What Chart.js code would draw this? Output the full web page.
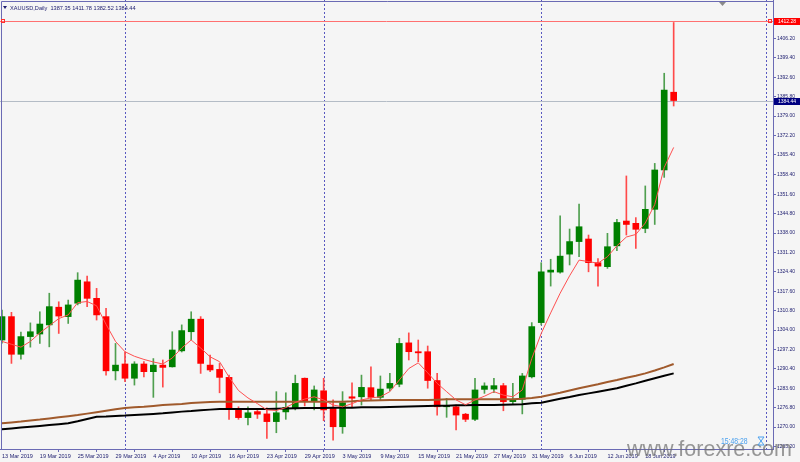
<!DOCTYPE html>
<html>
<head>
<meta charset="utf-8">
<title>XAUUSD,Daily</title>
<script src="https://cdn.jsdelivr.net/npm/chart.js@4.4.1/dist/chart.umd.min.js"></script>
<style>
  html, body { margin: 0; padding: 0; background: #f5f5f5; }
  #contenedor { width: 800px; height: 462px; position: relative; }
</style>
</head>
<body>
<div id="contenedor"><canvas id="grafica"></canvas></div>
<script>
// Velas diarias XAUUSD (13 Mar 2019 - 21 Jun 2019), una por sesión
const aperturas = [1300.5, 1308.7, 1295.5, 1301.7, 1302.6, 1305.8, 1312.0, 1308.7, 1313.4, 1320.9,
    1315.1, 1308.7, 1289.7, 1292.1, 1287.1, 1292.1, 1289.4, 1291.7, 1291.1, 1296.7,
    1303.4, 1307.8, 1291.7, 1290.2, 1287.4, 1276.3, 1273.3, 1275.4, 1274.6, 1271.9,
    1275.3, 1276.6, 1287.1, 1279.2, 1282.7, 1276.6, 1270.1, 1280.6, 1280.6, 1283.8,
    1280.4, 1283.6, 1285.0, 1299.5, 1296.4, 1296.4, 1286.3, 1277.1, 1277.1, 1274.5,
    1272.7, 1283.2, 1283.3, 1284.5, 1278.9, 1279.7, 1287.6, 1306.6, 1324.3, 1324.3,
    1330.6, 1335.0, 1335.9, 1327.6, 1326.2, 1333.5, 1342.2, 1341.4, 1339.6, 1346.3,
    1360.1, 1387.35];
const maximos = [1311.0, 1310.2, 1303.3, 1306.5, 1310.4, 1316.9, 1313.9, 1314.5, 1324.1, 1322.9,
    1318.6, 1311.6, 1299.3, 1296.4, 1292.9, 1292.9, 1294.0, 1293.5, 1303.4, 1305.8,
    1310.4, 1308.7, 1295.2, 1292.3, 1288.2, 1277.1, 1277.1, 1276.5, 1276.7, 1282.4,
    1282.0, 1288.2, 1287.2, 1284.4, 1287.1, 1279.5, 1282.4, 1285.5, 1288.2, 1291.1,
    1287.9, 1288.8, 1301.1, 1303.0, 1300.5, 1298.4, 1288.8, 1280.0, 1277.7, 1274.8,
    1287.1, 1285.5, 1287.1, 1285.3, 1285.3, 1288.8, 1306.6, 1327.6, 1328.8, 1344.0,
    1339.4, 1348.1, 1337.3, 1329.0, 1337.9, 1342.8, 1358.0, 1343.4, 1354.5, 1362.4,
    1394.0, 1411.78];
const minimos = [1299.4, 1292.3, 1293.8, 1298.0, 1299.3, 1298.1, 1302.8, 1306.3, 1312.8, 1312.2,
    1307.5, 1288.2, 1286.5, 1285.9, 1284.7, 1287.6, 1280.4, 1284.0, 1291.0, 1296.3,
    1300.5, 1288.8, 1289.4, 1282.0, 1272.7, 1272.7, 1270.7, 1273.0, 1266.0, 1268.0,
    1272.7, 1276.0, 1277.4, 1276.0, 1272.2, 1265.4, 1267.8, 1277.1, 1277.7, 1279.5,
    1279.5, 1282.7, 1284.1, 1293.5, 1292.9, 1283.6, 1274.2, 1273.4, 1269.0, 1271.9,
    1272.2, 1281.8, 1282.0, 1275.7, 1278.0, 1274.6, 1287.2, 1305.8, 1319.4, 1323.9,
    1326.8, 1329.7, 1324.4, 1319.4, 1325.6, 1331.8, 1337.3, 1332.6, 1338.1, 1341.0,
    1357.5, 1382.52];
const cierres = [1308.7, 1295.5, 1301.7, 1303.4, 1306.1, 1312.2, 1308.9, 1312.8, 1321.5, 1315.1,
    1309.3, 1289.7, 1291.7, 1287.1, 1292.1, 1289.4, 1291.7, 1290.9, 1297.0, 1303.8,
    1307.8, 1292.3, 1290.0, 1287.4, 1276.6, 1273.3, 1275.0, 1274.5, 1271.9, 1275.0,
    1276.9, 1285.3, 1279.2, 1283.0, 1276.0, 1270.1, 1278.5, 1280.1, 1283.9, 1280.4,
    1283.3, 1285.3, 1299.3, 1296.4, 1296.0, 1286.3, 1277.1, 1277.5, 1274.2, 1272.7,
    1283.0, 1284.4, 1284.5, 1278.9, 1279.7, 1287.9, 1305.2, 1324.4, 1325.0, 1329.9,
    1335.0, 1340.2, 1327.6, 1326.4, 1333.2, 1341.7, 1341.0, 1339.3, 1346.3, 1360.1,
    1388.1, 1384.44];

// Medias móviles
const mediaRoja = [1300.0, 1299.0, 1298.0, 1300.0, 1303.0, 1305.5, 1308.0, 1309.3, 1313.6, 1314.0,
    1312.5, 1306.0, 1300.0, 1296.4, 1294.8, 1293.7, 1292.8, 1292.1, 1294.2, 1297.7,
    1300.5, 1297.7, 1294.6, 1292.9, 1287.5, 1282.8, 1280.2, 1278.2, 1276.0, 1275.8,
    1276.8, 1278.6, 1279.8, 1280.6, 1279.5, 1277.7, 1277.1, 1278.2, 1279.5, 1280.2,
    1280.6, 1282.4, 1286.5, 1290.5, 1292.5, 1289.0, 1285.3, 1282.4, 1279.5, 1277.8,
    1279.5, 1280.8, 1282.4, 1281.2, 1280.6, 1283.0, 1294.0, 1302.8, 1310.0, 1316.9,
    1323.0, 1328.5, 1328.0, 1327.4, 1329.7, 1333.5, 1336.6, 1337.5, 1341.5, 1348.0,
    1361.0, 1368.0];
const mediaMarron = [1271.3, 1271.6, 1271.9, 1272.3, 1272.6, 1273.0, 1273.4, 1273.8, 1274.2, 1274.7,
    1275.2, 1275.7, 1276.2, 1276.7, 1276.9, 1277.1, 1277.4, 1277.7, 1277.9, 1278.1,
    1278.4, 1278.6, 1278.8, 1278.9, 1278.9, 1278.9, 1278.9, 1278.9, 1278.9, 1278.9,
    1278.9, 1278.9, 1278.9, 1278.9, 1278.9, 1278.9, 1278.9, 1279.0, 1279.2, 1279.3,
    1279.4, 1279.5, 1279.5, 1279.5, 1279.5, 1279.5, 1279.6, 1279.7, 1279.7, 1279.7,
    1279.7, 1279.7, 1279.7, 1279.7, 1279.7, 1279.9, 1280.2, 1280.6, 1281.3, 1282.0,
    1282.8, 1283.6, 1284.3, 1285.0, 1285.8, 1286.5, 1287.3, 1288.0, 1288.8, 1289.8,
    1290.9, 1292.1];
const mediaNegra = [1269.2, 1269.5, 1269.8, 1270.1, 1270.4, 1270.7, 1271.0, 1271.3, 1272.0, 1272.8,
    1273.6, 1273.7, 1273.9, 1274.0, 1274.2, 1274.4, 1274.6, 1274.8, 1275.1, 1275.4,
    1275.6, 1275.9, 1276.1, 1276.3, 1276.3, 1276.3, 1276.3, 1276.3, 1276.3, 1276.4,
    1276.5, 1276.6, 1276.7, 1276.7, 1276.7, 1276.8, 1276.8, 1276.8, 1276.9, 1276.9,
    1276.9, 1277.0, 1277.1, 1277.2, 1277.3, 1277.4, 1277.5, 1277.5, 1277.6, 1277.6,
    1277.7, 1277.7, 1277.7, 1277.8, 1277.9, 1278.0, 1278.3, 1278.5, 1279.2, 1279.9,
    1280.5, 1281.2, 1281.8, 1282.4, 1283.0, 1283.6, 1284.5, 1285.3, 1286.2, 1287.1,
    1288.0, 1288.8];

// Etiquetas del eje de tiempo (índice de vela donde va cada fecha)
const etiquetasFechas = ['13 Mar 2019', '19 Mar 2019', '25 Mar 2019', '29 Mar 2019', '4 Apr 2019',
    '10 Apr 2019', '16 Apr 2019', '23 Apr 2019', '29 Apr 2019', '3 May 2019', '9 May 2019',
    '15 May 2019', '21 May 2019', '27 May 2019', '31 May 2019', '6 Jun 2019', '12 Jun 2019', '18 Jun 2019'];
const posicionesFechas = [0, 4, 8, 12, 16, 20, 24, 28, 32, 36, 40, 44, 48, 52, 56, 60, 64, 68];

// Etiquetas del eje de precios
const valoresPrecio = [1406.20, 1399.40, 1392.60, 1385.80, 1379.00, 1372.20, 1365.40, 1358.40,
    1351.60, 1344.80, 1338.00, 1331.20, 1324.40, 1317.60, 1310.80, 1304.00, 1297.20, 1290.40,
    1283.60, 1276.80, 1270.00, 1263.20];

// Separadores de periodo (inicio de mes) y líneas horizontales
const separadores = [13, 34, 57, 80.8];
const lineaMaximo = 1412.28;
const lineaBid = 1384.44;
const titulo = 'XAUUSD,Daily  1387.35 1411.78 1382.52 1384.44';
const hora = '15:48:28';

const colorEje = '#6a6ab4';
const colorTexto = '#1c1c6e';

const verde = '#008000';
const rojo = '#ff0000';
const esAlcista = i => cierres[i] >= aperturas[i];

const cuerpos = cierres.map((c, i) => ({ x: i, y: [aperturas[i], c] }));
const mechas = minimos.map((l, i) => ({ x: i, y: [l, maximos[i]] }));
const puntos = serie => serie.map((v, i) => ({ x: i, y: v }));

// Dibujo de fondo, separadores y líneas de precio
const pluginFondo = {
    id: 'fondo',
    beforeDraw(chart) {
        const ctx = chart.ctx;
        ctx.save();
        ctx.fillStyle = '#f5f5f5';
        ctx.fillRect(0, 0, chart.width, chart.height);
        ctx.restore();
    },
    beforeDatasetsDraw(chart) {
        const ctx = chart.ctx;
        const area = chart.chartArea;
        const x = chart.scales.x;
        const y = chart.scales.y;
        ctx.save();
        // separadores de mes
        ctx.strokeStyle = '#5858c0';
        ctx.lineWidth = 1;
        ctx.setLineDash([2, 2]);
        separadores.forEach(s => {
            const px = Math.round(x.getPixelForValue(s)) + 0.5;
            ctx.beginPath();
            ctx.moveTo(px, area.top);
            ctx.lineTo(px, area.bottom);
            ctx.stroke();
        });
        ctx.setLineDash([]);
        // línea del máximo
        const yMax = Math.round(y.getPixelForValue(lineaMaximo)) + 0.5;
        ctx.strokeStyle = '#ff7070';
        ctx.beginPath();
        ctx.moveTo(area.left, yMax);
        ctx.lineTo(area.right, yMax);
        ctx.stroke();
        // línea bid
        const yBid = Math.round(y.getPixelForValue(lineaBid)) + 0.5;
        ctx.strokeStyle = '#b4bcc6';
        ctx.beginPath();
        ctx.moveTo(area.left, yBid);
        ctx.lineTo(area.right, yBid);
        ctx.stroke();
        ctx.restore();
    },
    afterDraw(chart) {
        const ctx = chart.ctx;
        const area = chart.chartArea;
        const y = chart.scales.y;
        ctx.save();
        // marco
        ctx.strokeStyle = colorEje;
        ctx.lineWidth = 1;
        ctx.beginPath();
        ctx.moveTo(1.5, area.bottom);
        ctx.lineTo(1.5, 1.5);
        ctx.lineTo(area.right, 1.5);
        ctx.stroke();

        // cuadritos en los extremos de la línea del máximo
        const yMax = Math.round(y.getPixelForValue(lineaMaximo));
        ctx.strokeStyle = '#ff3030';
        ctx.strokeRect(1.5, yMax - 1.5, 3, 3);
        ctx.strokeRect(area.right - 4.5, yMax - 1.5, 3, 3);

        // etiquetas de precio en el eje
        ctx.font = '5px "Liberation Sans"';
        ctx.textBaseline = 'middle';
        ctx.textAlign = 'left';
        ctx.fillStyle = '#ff0000';
        ctx.fillRect(area.right + 1, yMax - 3, 27, 7);
        ctx.fillStyle = '#ffffff';
        ctx.fillText(lineaMaximo.toFixed(2), area.right + 5, yMax + 0.5);
        const yBid = Math.round(y.getPixelForValue(lineaBid));
        ctx.fillStyle = '#000080';
        ctx.fillRect(area.right + 1, yBid - 3, 27, 7);
        ctx.fillStyle = '#ffffff';
        ctx.fillText(lineaBid.toFixed(2), area.right + 5, yBid + 0.5);

        // título
        ctx.fillStyle = colorTexto;
        ctx.beginPath();
        ctx.moveTo(3, 6);
        ctx.lineTo(7, 6);
        ctx.lineTo(5, 9);
        ctx.closePath();
        ctx.fill();
        ctx.font = '5.6px "Liberation Sans"';
        ctx.fillText(titulo, 10, 8);

        // marcador de desplazamiento arriba
        ctx.fillStyle = '#8a8a8a';
        ctx.beginPath();
        ctx.moveTo(719, 2);
        ctx.lineTo(726, 2);
        ctx.lineTo(722.5, 6);
        ctx.closePath();
        ctx.fill();

        // marca de agua
        ctx.font = '21.5px "Liberation Sans"';
        ctx.fillStyle = 'rgba(110,110,110,0.7)';
        ctx.textBaseline = 'alphabetic';
        ctx.fillText('www.forexre.com', 627, 456);

        // hora y reloj de arena
        ctx.fillStyle = '#4aa0ee';
        ctx.save();
        ctx.translate(721, 441);
        ctx.scale(0.72, 1);
        ctx.font = '9.5px "Liberation Sans"';
        ctx.textBaseline = 'middle';
        ctx.fillText(hora, 0, 0);
        ctx.restore();
        ctx.strokeStyle = '#4aa0ee';
        ctx.beginPath();
        ctx.moveTo(758, 437);
        ctx.lineTo(764, 437);
        ctx.lineTo(758, 445);
        ctx.lineTo(764, 445);
        ctx.closePath();
        ctx.stroke();
        ctx.restore();
    }
};

const ctx = document.getElementById('grafica').getContext('2d');
new Chart(ctx, {
    type: 'bar',
    data: {
        datasets: [
            {
                type: 'line', label: 'MA roja', data: puntos(mediaRoja), order: 0,
                borderColor: '#ff5050', borderWidth: 1, pointRadius: 0, tension: 0
            },
            {
                type: 'line', label: 'MA marrón', data: puntos(mediaMarron), order: 0,
                borderColor: '#a05a2c', borderWidth: 2, pointRadius: 0, tension: 0
            },
            {
                type: 'line', label: 'MA negra', data: puntos(mediaNegra), order: 0,
                borderColor: '#000000', borderWidth: 2, pointRadius: 0, tension: 0
            },
            {
                label: 'Cuerpos', data: cuerpos, order: 1, grouped: false,
                barThickness: 6, minBarLength: 1, borderWidth: 0,
                backgroundColor: cierres.map((c, i) => esAlcista(i) ? verde : rojo)
            },
            {
                label: 'Mechas', data: mechas, order: 2, grouped: false,
                barThickness: 1, borderWidth: 0,
                backgroundColor: cierres.map((c, i) => esAlcista(i) ? '#4f9f4f' : '#ff4a4a')
            }
        ]
    },
    options: {
        responsive: true,
        maintainAspectRatio: false,
        animation: false,
        layout: { padding: 0 },
        plugins: {
            legend: { display: false },
            tooltip: { enabled: false }
        },
        scales: {
            x: {
                type: 'linear',
                min: -0.21,
                max: 81.5,
                offset: false,
                afterBuildTicks: scale => {
                    scale.ticks = posicionesFechas.map(v => ({ value: v }));
                },
                afterFit: scale => {
                    scale.height = 13;
                    scale.paddingLeft = 0;
                    scale.paddingRight = 0;
                },
                ticks: {
                    autoSkip: false,
                    maxRotation: 0,
                    align: 'start',
                    padding: 1,
                    color: colorTexto,
                    font: { family: 'Liberation Sans', size: 5.5 },
                    callback: (v, i) => etiquetasFechas[i]
                },
                grid: { drawOnChartArea: false, tickLength: 3, color: colorEje },
                border: { color: colorEje }
            },
            y: {
                type: 'linear',
                position: 'right',
                min: 1262.3,
                max: 1419.67,
                afterBuildTicks: scale => {
                    scale.ticks = valoresPrecio.map(v => ({ value: v }));
                },
                afterFit: scale => {
                    scale.width = 27;
                    scale.paddingTop = 0;
                    scale.paddingBottom = 0;
                },
                ticks: {
                    autoSkip: false,
                    padding: 1,
                    color: colorTexto,
                    font: { family: 'Liberation Sans', size: 5 },
                    callback: v => v.toFixed(2)
                },
                grid: { drawOnChartArea: false, tickLength: 3, color: colorEje },
                border: { color: colorEje }
            }
        }
    },
    plugins: [pluginFondo]
});
</script>
</body>
</html>
